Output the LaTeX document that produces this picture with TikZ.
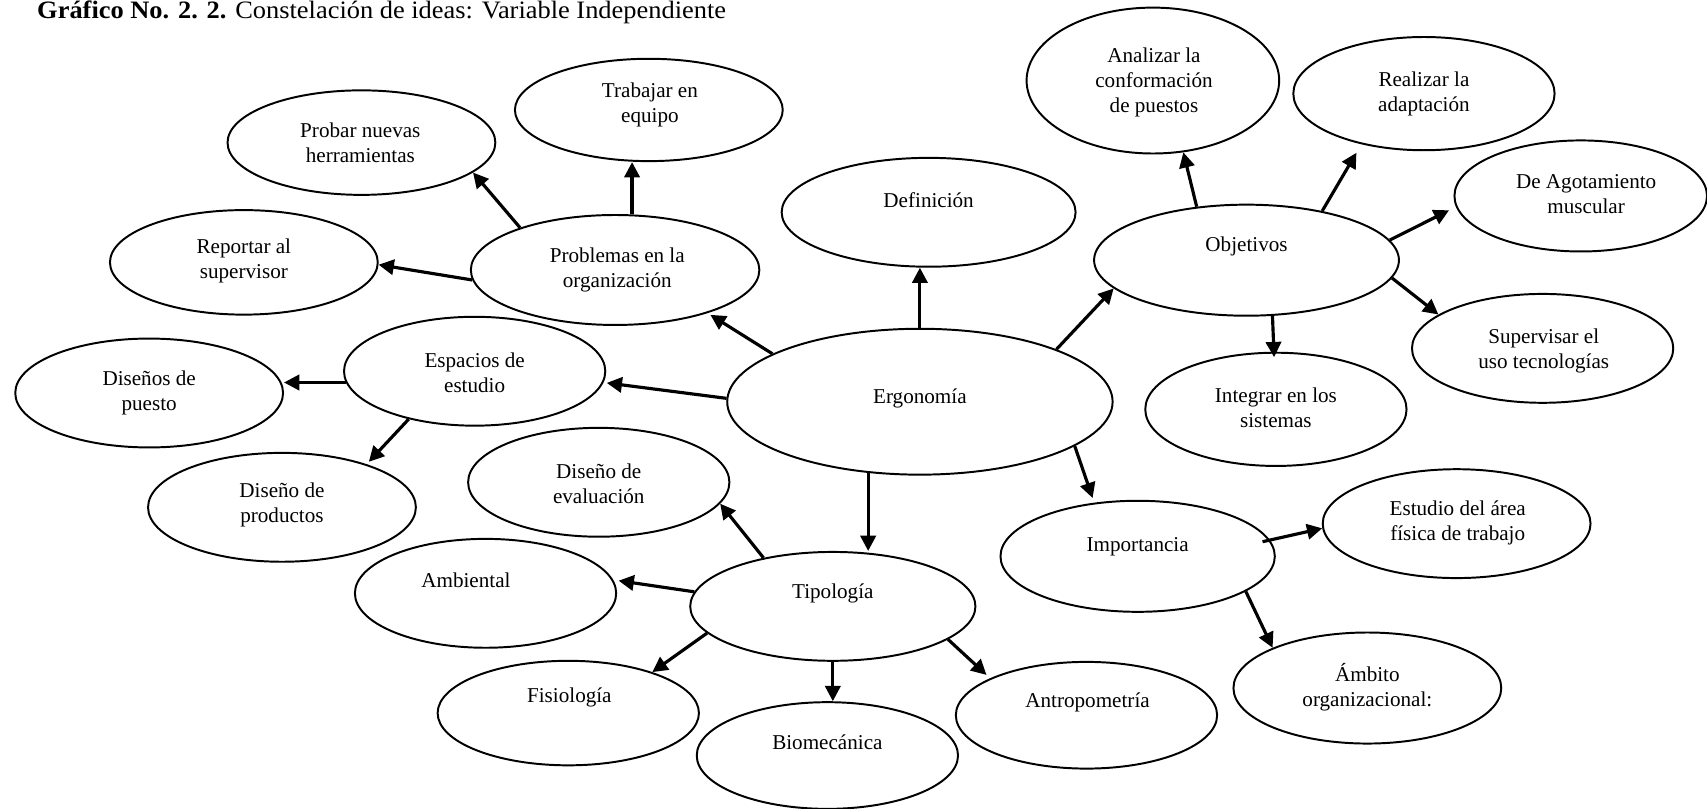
\documentclass[tikz,border=0pt]{standalone}
\usepackage{fontspec}
\setmainfont{Liberation Serif}
\usetikzlibrary{arrows.meta,shapes.geometric,calc}
\begin{document}
\begin{tikzpicture}[x=1pt,y=-1pt,
  ell/.style={draw=black,line width=1.8pt,ellipse,inner sep=0pt},
  el/.style n args={2}{ell,minimum width=#1pt,minimum height=#2pt},
  txt/.style={align=center,font=\fontsize{19.4}{23}\selectfont,inner sep=0pt},
  arr/.style={line width=2.9pt,-{Triangle[length=14pt,width=14pt]}}
]
\fill[white] (0,0) rectangle (1568,743);
\useasboundingbox (0,0) rectangle (1568,743);

\node[anchor=base west,font=\fontsize{23}{26}\selectfont,inner sep=0pt,xscale=1.055] (title) at (34,17) {\textbf{Gráfico No. 2. 2.} Constelación de ideas: Variable Independiente};

% ellipses
\node[el={246}{94}]  (tr)   at (596,101) {};
\node[el={246}{96}]  (pr)   at (332,131) {};
\node[el={246}{96}]  (rep)  at (224,241) {};
\node[el={265}{101}] (prob) at (565,248) {};
\node[el={270}{100}] (def)  at (853,195) {};
\node[el={232}{134}] (ana)  at (1059,74) {};
\node[el={240}{104}] (real) at (1308,86) {};
\node[el={232}{102}] (ago)  at (1452,180) {};
\node[el={280}{102}] (obj)  at (1145,239) {};
\node[el={240}{100}] (sup)  at (1417,320) {};
\node[el={240}{104}] (int)  at (1172,376) {};
\node[el={354}{134}] (erg)  at (845,369) {};
\node[el={240}{100}] (esp)  at (436,341) {};
\node[el={246}{100}] (dp)   at (137,361) {};
\node[el={246}{100}] (dprod) at (259,466) {};
\node[el={240}{100}] (dev)  at (550,443) {};
\node[el={240}{100}] (amb)  at (446,545) {};
\node[el={262}{100}] (tip)  at (765,557) {};
\node[el={240}{96}]  (fis)  at (522,655) {};
\node[el={240}{98}]  (bio)  at (760,694) {};
\node[el={240}{98}]  (ant)  at (998,657) {};
\node[el={252}{102}] (imp)  at (1045,511) {};
\node[el={246}{100}] (est)  at (1338,481) {};
\node[el={246}{102}] (ambi) at (1256,632) {};

% texts
\node[txt] (ttr)   at (597,96)  {Trabajar en\\equipo};
\node[txt] (tpr)   at (331,131) {Probar nuevas\\herramientas};
\node[txt] (trep)  at (224,240) {Reportar al\\supervisor};
\node[txt] (tprob) at (567,248) {Problemas en la\\organización};
\node[txt] (tdef)  at (853,184) {Definición};
\node[txt] (tana)  at (1060,76) {Analizar la\\conformación\\de puestos};
\node[txt] (treal) at (1308,86) {Realizar la\\adaptación};
\node[txt] (tago)  at (1457,178) {De Agotamiento\\muscular};
\node[txt] (tobj)  at (1145,226) {Objetivos};
\node[txt] (tsup)  at (1418,322) {Supervisar el\\uso tecnologías};
\node[txt] (tint)  at (1172,375) {Integrar en los\\sistemas};
\node[txt] (terg)  at (845,366) {Ergonomía};
\node[txt] (tesp)  at (436,342) {Espacios de\\estudio};
\node[txt] (tdp)   at (137,361) {Diseños de\\puesto};
\node[txt] (tdprod) at (259,464) {Diseño de\\productos};
\node[txt] (tdev)  at (550,444) {Diseño de\\evaluación};
\node[txt] (tamb)  at (428,533) {Ambiental};
\node[txt] (ttip)  at (765,545) {Tipología};
\node[txt] (tfis)  at (523,641) {Fisiología};
\node[txt] (tbio)  at (760,682) {Biomecánica};
\node[txt] (tant)  at (999,645) {Antropometría};
\node[txt] (timp)  at (1045,502) {Importancia};
\node[txt] (test)  at (1339,480) {Estudio del área\\física de trabajo};
\node[txt] (tambi) at (1256,631) {Ámbito\\organizacional:};

% arrows
\draw[arr] (erg.north) -- (erg.north |- def.south);
\draw[arr,shorten >=3pt] (erg.162) -- (prob.335);
\draw[arr,shorten >=3pt] (erg.179) -- (esp.355);
\draw[arr] (erg.234) -- (erg.234 |- tip.north);
\draw[arr] (erg.21) -- (obj.192);
\draw[arr,shorten >=4.5pt] (erg.344) -- (imp.129);
\draw[arr] (prob.73) -- (prob.73 |- tr.south);
\draw[arr] (prob.156) -- (pr.345);
\draw[arr] (prob.184) -- (rep.359);
\draw[arr] (esp.185) -- (esp.185 -| dp.east);
\draw[arr,shorten >=3pt] (esp.216) -- (dprod.27);
\draw[arr] (tip.145) -- (dev.350);
\draw[arr,shorten >=5pt] (tip.174) -- (amb.6);
\draw[arr] (tip.192) -- (fis.26);
\draw[arr] (tip.south) -- (tip.south |- bio.north);
\draw[arr,shorten >=4.5pt] (tip.344) -- (ant.159);
\draw[arr] (obj.133) -- (ana.293);
\draw[arr,shorten >=9pt] (obj.33) -- (real.219);
\draw[arr,shorten >=7pt] (obj.8) -- (ago.185);
\draw[arr] (obj.353) -- (sup.162);
\draw[arr,shorten >=-5pt] (obj.295) -- (int.92);
\draw[arr,shorten <=-7pt] (imp.7) -- (est.182);
\draw[arr] (imp.342) -- (ambi.157);
\end{tikzpicture}
\end{document}
